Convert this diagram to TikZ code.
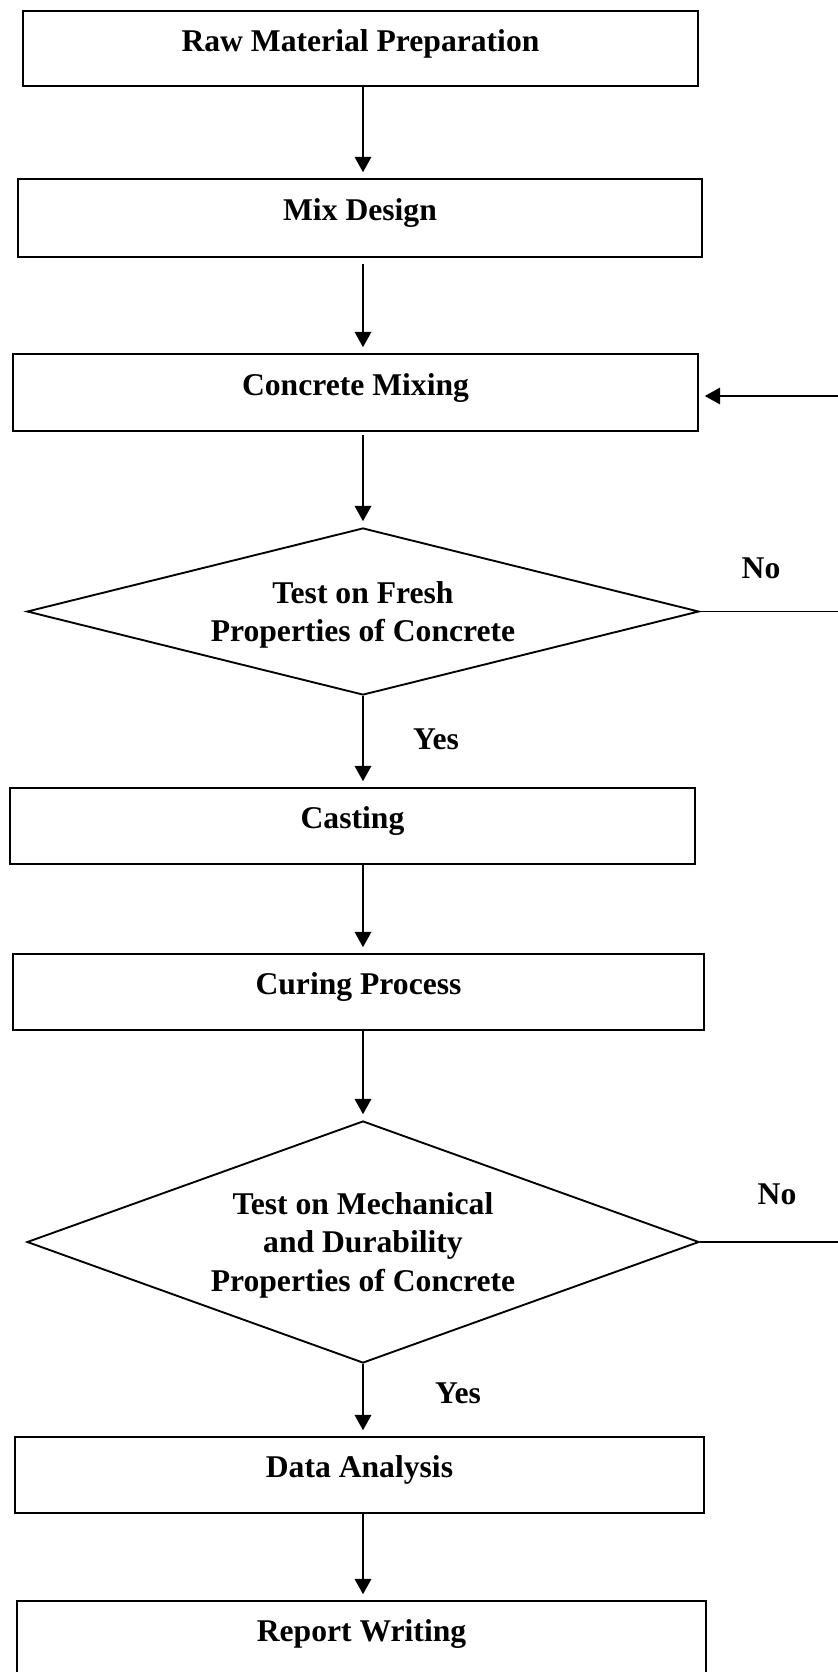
\documentclass[tikz,border=0pt]{standalone}
\usepackage{fontspec}
\setmainfont{Liberation Serif}
\usetikzlibrary{shapes.geometric,arrows.meta}
\newcommand{\pxu}{0.03cm}

\begin{document}
\begin{tikzpicture}[x=0.03cm, y=-0.03cm, line width=1.6pt,
    font=\fontsize{27}{32.5}\selectfont\bfseries,
    box/.style = {draw, rectangle, inner sep=0pt, text height=0.75em, text depth=0.3em},
    dec/.style = {draw, diamond, inner sep=0pt, align=center, text depth=-2pt},
    arr/.style = {-{Triangle[length=13pt, width=14pt]}, shorten >=5pt}]
    \useasboundingbox (0,0) rectangle (838,1672);
    \clip (0,0) rectangle (838,1672);
    % main chain
    \node[box, minimum width=675*\pxu, minimum height=75*\pxu] (raw)  at (360.5,48.5) {Raw Material Preparation};
    \node[box, minimum width=684*\pxu, minimum height=78*\pxu] (mix)  at (360,218)    {Mix Design};
    \node[box, minimum width=685*\pxu, minimum height=77*\pxu] (conc) at (355.5,392.5) {Concrete Mixing};
    \node[dec, minimum width=672*\pxu, minimum height=167*\pxu, aspect=4.02] (fresh) at (363,611.5)
        {Test on Fresh\\Properties of Concrete};
    \node[box, minimum width=685*\pxu, minimum height=76*\pxu] (cast) at (352.5,826)  {Casting};
    \node[box, minimum width=691*\pxu, minimum height=76*\pxu] (cure) at (358.5,992)  {Curing Process};
    \node[dec, minimum width=672*\pxu, minimum height=242*\pxu, aspect=2.78, text depth=-6pt] (mech) at (363,1242)
        {Test on Mechanical\\and Durability\\Properties of Concrete};
    \node[box, minimum width=689*\pxu, minimum height=76*\pxu] (data) at (359.5,1475) {Data Analysis};
    \node[box, minimum width=689*\pxu, minimum height=76*\pxu] (rep)  at (361.5,1639) {Report Writing};
    % labels
    \node (no1)  at (761,568)  {No};
    \node (no2)  at (777,1194) {No};
    \node (yes1) at (436,739)  {Yes};
    \node (yes2) at (458,1393) {Yes};
    % loose ends at the right edge
    \coordinate (back) at (838,396);
    \coordinate (out1) at (838,611.5);
    \coordinate (out2) at (838,1242);
    % connectors
    \draw[arr] (raw.south -| fresh.north)  -- (mix.north -| fresh.north);
    \draw[arr, shorten <=5pt] (mix.south -| fresh.north) -- (conc.north -| fresh.north);
    \draw[arr, shorten <=3pt] (conc.south -| fresh.north) -- (fresh.north);
    \draw[arr] (fresh.south) -- (cast.north -| fresh.south);
    \draw[arr] (cast.south -| fresh.south) -- (cure.north -| fresh.south);
    \draw[arr] (cure.south -| mech.north) -- (mech.north);
    \draw[arr] (mech.south) -- (data.north -| mech.south);
    \draw[arr] (data.south -| mech.south) -- (rep.north -| mech.south);
    \draw (fresh.east) -- (out1);
    \draw (mech.east) -- (out2);
    \draw[arr] (back) -- (back -| conc.east);
\end{tikzpicture}
\end{document}
